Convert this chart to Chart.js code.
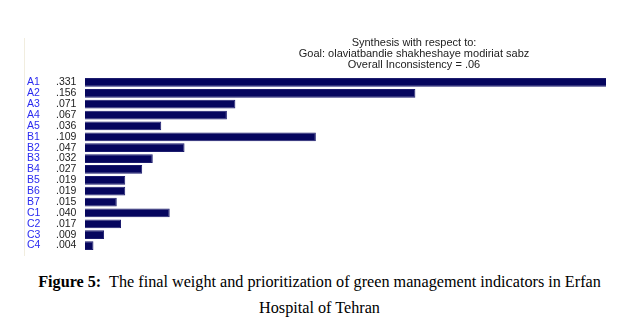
<!DOCTYPE html>
<html>
<head>
<meta charset="utf-8">
<script src="https://cdn.jsdelivr.net/npm/chart.js@4"></script>
<style>
  body { margin: 0; background: #fff; }
  #wrap { position: relative; width: 639px; height: 331px; overflow: hidden; }
  #chart { position: absolute; left: 0; top: 0; }
  #caption {
    position: absolute; left: 0; top: 269px; width: 639px;
    text-align: center; font: 16.2px "Liberation Serif", "Times New Roman", serif;
    line-height: 26px; color: #000;
  }
</style>
</head>
<body>
<div id="wrap">
  <canvas id="chart" width="639" height="262"></canvas>
  <div id="caption"><b>Figure 5:</b>&nbsp; The final weight and prioritization of green management indicators in Erfan<br>Hospital of Tehran</div>
</div>
<script>
// indicator codes and their final weights
const indicators = ['A1', 'A2', 'A3', 'A4', 'A5', 'B1', 'B2', 'B3', 'B4', 'B5', 'B6', 'B7', 'C1', 'C2', 'C3', 'C4'];
const weights = [0.331, 0.156, 0.071, 0.067, 0.036, 0.109, 0.047, 0.032, 0.027, 0.019, 0.019, 0.015, 0.040, 0.017, 0.009, 0.004];
const weightLabels = ['.331', '.156', '.071', '.067', '.036', '.109', '.047', '.032', '.027', '.019', '.019', '.015', '.040', '.017', '.009', '.004'];
const headerLines = ['Synthesis with respect to:', 'Goal: olaviatbandie shakheshaye modiriat sabz', 'Overall Inconsistency = .06'];

// header, left frame line and the two label columns
const synthesisText = {
    id: 'synthesisText',
    afterDraw(chart) {
        const ctx = chart.ctx;
        const yScale = chart.scales.y;
        ctx.save();

        ctx.strokeStyle = '#f1eddf';
        ctx.lineWidth = 1;
        ctx.beginPath();
        ctx.moveTo(24.5, 38);
        ctx.lineTo(24.5, 256);
        ctx.stroke();

        ctx.font = '11px "Liberation Sans", Arial, sans-serif';
        ctx.textBaseline = 'middle';
        ctx.textAlign = 'center';
        ctx.fillStyle = '#222';
        headerLines.forEach((line, i) => ctx.fillText(line, 414, 42.5 + i * 11));

        ctx.font = '10.5px "Liberation Sans", Arial, sans-serif';
        ctx.textAlign = 'left';
        indicators.forEach((name, i) => {
            const y = yScale.getPixelForValue(i);
            ctx.fillStyle = '#2b2bf0';
            ctx.fillText(name, 27, y);
            ctx.fillStyle = '#222';
            ctx.fillText(weightLabels[i], 56, y);
        });
        ctx.restore();
    }
};

new Chart(document.getElementById('chart'), {
    type: 'bar',
    data: {
        labels: indicators,
        datasets: [{
            data: weights,
            backgroundColor: '#06065e',
            borderColor: '#1c1c6e',
            borderWidth: 1,
            categoryPercentage: 1,
            barPercentage: 0.8,
            clip: 0
        }]
    },
    options: {
        indexAxis: 'y',
        responsive: false,
        animation: false,
        layout: { padding: { left: 85, right: 33, top: 77, bottom: 11 } },
        scales: {
            x: { display: false, min: 0, max: 0.246 },
            y: { display: false }
        },
        plugins: { legend: { display: false }, tooltip: { enabled: false } }
    },
    plugins: [synthesisText]
});
</script>
</body>
</html>
